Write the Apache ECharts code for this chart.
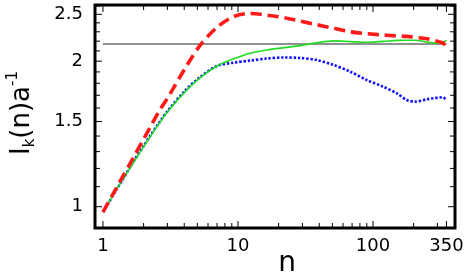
<!DOCTYPE html>
<html><head><meta charset="utf-8">
<script src="https://cdn.jsdelivr.net/npm/echarts@6/dist/echarts.min.js"></script>
<style>html,body{margin:0;padding:0;background:#fff}#c{width:468px;height:280px}</style>
</head><body><div id="c"></div>
<script>
// n grid (log x axis) and the three curves I_k(n) a^-1 (log y axis)
const nValues     = [1, 1.3, 1.7, 2, 2.25, 2.6, 3, 4, 5.2, 7, 9.2, 12.3, 16.3, 22, 29, 38, 51, 68, 90, 119, 150, 178, 205, 251, 280, 313, 330, 350];
const redValues   = [0.975, 1.112, 1.271, 1.38, 1.464, 1.575, 1.675, 1.92, 2.15, 2.35, 2.47, 2.51, 2.49, 2.46, 2.42, 2.38, 2.34, 2.30, 2.28, 2.265, 2.255, 2.25, 2.24, 2.225, 2.21, 2.19, 2.18, 2.14];
const greenValues = [0.975, 1.10, 1.24, 1.331, 1.40, 1.484, 1.569, 1.722, 1.844, 1.954, 2.02, 2.076, 2.109, 2.133, 2.153, 2.182, 2.203, 2.195, 2.188, 2.197, 2.208, 2.21, 2.21, 2.19, 2.182, 2.178, 2.185, 2.21];
const blueValues  = [0.975, 1.10, 1.245, 1.335, 1.405, 1.49, 1.575, 1.73, 1.85, 1.955, 1.985, 2.005, 2.025, 2.035, 2.03, 2.012, 1.964, 1.902, 1.828, 1.771, 1.716, 1.662, 1.649, 1.668, 1.676, 1.682, 1.684, 1.657];
const refLevel = 2.17;
const refSpan = [1, 350];
const xMajorTicks = [1, 10, 100, 350];
const xMinorTicks = [2, 3, 4, 5, 6, 7, 8, 9, 20, 30, 40, 50, 60, 70, 80, 90, 200, 300];
const yMajorTicks = [1, 1.5, 2, 2.5];
const yMinorTicks = [1.1, 1.2, 1.3, 1.4, 1.6, 1.7, 1.8, 1.9, 2.1, 2.2, 2.3, 2.4, 2.6];
const xRange = [0.873, 405];
const yRange = [0.9036, 2.613];

const lx = Math.log10, ly = Math.log;
const FONT = 'DejaVu Sans';
const GRID = {left: 95, right: 13, top: 5, bottom: 52};
const W = 468, H = 280;
const MAJOR = 6, MINOR = 4; // tick lengths in px

const toPts = vals => nValues.map((n, i) => [lx(n), ly(vals[i])]);

// tick lengths converted from px to data units of the transformed axes
const X0 = lx(xRange[0]), X1 = lx(xRange[1]), Y0 = ly(yRange[0]), Y1 = ly(yRange[1]);
const dxPerPx = (X1 - X0) / (W - GRID.left - GRID.right);
const dyPerPx = (Y1 - Y0) / (H - GRID.top - GRID.bottom);
const tickSegs = [];
[[xMajorTicks, MAJOR], [xMinorTicks, MINOR]].forEach(([arr, len]) => arr.forEach(n => {
  const x = lx(n);
  tickSegs.push([[x, Y0], [x, Y0 + (len + 1) * dyPerPx]]);
  tickSegs.push([[x, Y1], [x, Y1 - (len + 1) * dyPerPx]]);
}));
[[yMajorTicks, MAJOR], [yMinorTicks, MINOR]].forEach(([arr, len]) => arr.forEach(v => {
  const y = ly(v);
  tickSegs.push([[X0, y], [X0 + (len + 1) * dxPerPx, y]]);
  tickSegs.push([[X1, y], [X1 - (len + 1) * dxPerPx, y]]);
}));
const tickSeries = tickSegs.map(seg => ({
  type: 'line', data: seg, showSymbol: false, silent: true, clip: false,
  lineStyle: {color: '#000', width: 1}, z: 10
}));

const chart = echarts.init(document.getElementById('c'), null, {renderer: 'canvas'});
chart.setOption({
  animation: false,
  backgroundColor: '#fff',
  grid: Object.assign({show: true, borderColor: '#000', borderWidth: 3, backgroundColor: 'transparent'}, GRID),
  xAxis: {
    type: 'value', min: X0, max: X1,
    axisLine: {show: false, onZero: false}, splitLine: {show: false}, axisTick: {show: false},
    axisLabel: {show: true, customValues: xMajorTicks.map(lx), margin: 9, color: '#000', fontFamily: FONT, fontSize: 18,
      formatter: v => String(Math.round(Math.pow(10, v)))}
  },
  yAxis: {
    type: 'value', min: Y0, max: Y1,
    axisLine: {show: false, onZero: false}, splitLine: {show: false}, axisTick: {show: false},
    axisLabel: {show: true, customValues: yMajorTicks.map(ly), margin: 12, color: '#000', fontFamily: FONT, fontSize: 18,
      formatter: v => String(+Math.exp(v).toFixed(1))}
  },
  series: [
    {type: 'line', data: refSpan.map(n => [lx(n), ly(refLevel)]), showSymbol: false, lineStyle: {color: '#222', width: 1}, z: 2},
    {type: 'line', data: toPts(blueValues), showSymbol: false, smooth: 0.3, lineStyle: {color: '#1010ff', width: 2.6, type: [2.4, 1.8]}, z: 3},
    {type: 'line', data: toPts(greenValues), showSymbol: false, smooth: 0.3, lineStyle: {color: '#22dd22', width: 1.6}, z: 4},
    {type: 'line', data: toPts(redValues), showSymbol: false, smooth: 0.3, lineStyle: {color: '#ff1a1a', width: 3.6, type: [11, 6]}, z: 5}
  ].concat(tickSeries),
  graphic: [
    {type: 'text', z: 100, x: 287, y: 264, style: {text: 'n', fontFamily: FONT, fontSize: 28, fill: '#000', align: 'center', verticalAlign: 'middle'}},
    {type: 'text', z: 100, x: 22, y: 113, rotation: Math.PI / 2,
      style: {text: '{b|I}{s|k}{b|(n)a}{p|-1}', align: 'center', verticalAlign: 'middle', fill: '#000',
        rich: {
          b: {fontFamily: FONT, fontSize: 26, lineHeight: 32, fill: '#000'},
          s: {fontFamily: FONT, fontSize: 15, lineHeight: 15, verticalAlign: 'bottom', fill: '#000'},
          p: {fontFamily: FONT, fontSize: 15, lineHeight: 15, verticalAlign: 'top', fill: '#000'}
        }}}
  ]
});
</script></body></html>
